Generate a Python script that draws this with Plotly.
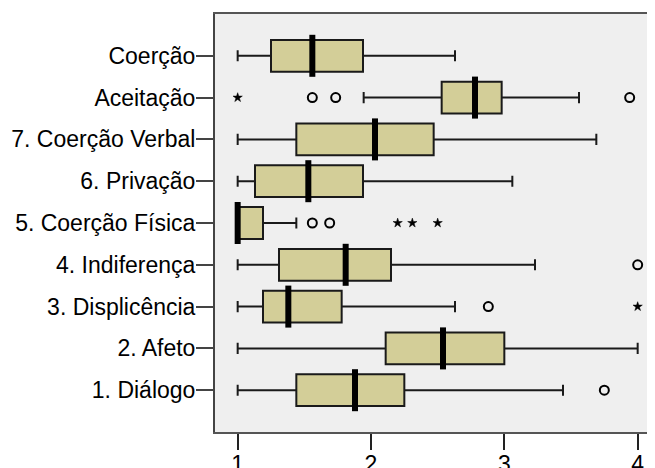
import plotly.graph_objects as go

categories = ["1. Diálogo", "2. Afeto", "3. Displicência", "4. Indiferença",
              "5. Coerção Física", "6. Privação", "7. Coerção Verbal",
              "Aceitação", "Coerção"]
lower = [1.00, 1.00, 1.00, 1.00, 1.00, 1.00, 1.00, 1.945, 1.00]
q1 = [1.44, 2.11, 1.19, 1.31, 1.00, 1.13, 1.44, 2.53, 1.25]
median = [1.88, 2.54, 1.38, 1.81, 1.00, 1.53, 2.03, 2.78, 1.56]
q3 = [2.25, 3.00, 1.78, 2.15, 1.19, 1.94, 2.47, 2.98, 1.94]
upper = [3.44, 4.00, 2.63, 3.23, 1.44, 3.06, 3.69, 3.56, 2.63]

circle_cat = ["1. Diálogo", "3. Displicência", "4. Indiferença",
              "5. Coerção Física", "5. Coerção Física",
              "Aceitação", "Aceitação", "Aceitação"]
circle_val = [3.75, 2.88, 4.00, 1.56, 1.69, 1.56, 1.735, 3.94]
star_cat = ["3. Displicência", "5. Coerção Física", "5. Coerção Física",
            "5. Coerção Física", "Aceitação"]
star_val = [4.00, 2.20, 2.31, 2.50, 1.00]

x_ticks = [1, 2, 3, 4]

FONT = "Liberation Sans, Arial, sans-serif"
fig = go.Figure()

fig.add_trace(go.Box(
    y=categories, q1=q1, median=median, q3=q3,
    lowerfence=lower, upperfence=upper,
    orientation="h", width=0.76, whiskerwidth=0.35,
    fillcolor="#D3CE98", line=dict(color="#1a1a1a", width=2),
    boxpoints=False, hoverinfo="skip", showlegend=False,
))

fig.add_trace(go.Scatter(
    x=median, y=categories, mode="markers",
    marker=dict(symbol="line-ns", size=30, line=dict(color="black", width=6)),
    showlegend=False, hoverinfo="skip",
))

fig.add_trace(go.Scatter(
    x=circle_val, y=circle_cat, mode="markers",
    marker=dict(symbol="circle-open", size=9, color="black",
                line=dict(color="black", width=2)),
    showlegend=False, hoverinfo="skip",
))

fig.add_trace(go.Scatter(
    x=star_val, y=star_cat, mode="markers",
    marker=dict(symbol="star", size=7, color="black",
                line=dict(color="black", width=0.5)),
    showlegend=False, hoverinfo="skip",
))

fig.update_layout(
    width=647, height=460,
    margin=dict(l=207, r=0, t=6, b=36),
    paper_bgcolor="white", plot_bgcolor="#EFEFEF",
    font=dict(family=FONT, size=22, color="black"),
    xaxis=dict(range=[0.83, 4.13], tickvals=x_ticks, ticks="outside",
               ticklen=16, tickwidth=2, tickcolor="#222",
               showgrid=False, zeroline=False, automargin=False,
               ticklabelstandoff=-6,
               showline=True, linecolor="#555", linewidth=2, mirror=True,
               tickfont=dict(size=23, family=FONT)),
    yaxis=dict(type="category", categoryorder="array", categoryarray=categories,
               range=[-1, 9], ticks="outside", ticklen=17, tickwidth=2,
               tickcolor="#444", showgrid=False, zeroline=False,
               automargin=False, ticklabelstandoff=-4,
               showline=True, linecolor="#444", linewidth=2,
               tickfont=dict(size=23, family=FONT)),
)

fig.write_html("out.html")
